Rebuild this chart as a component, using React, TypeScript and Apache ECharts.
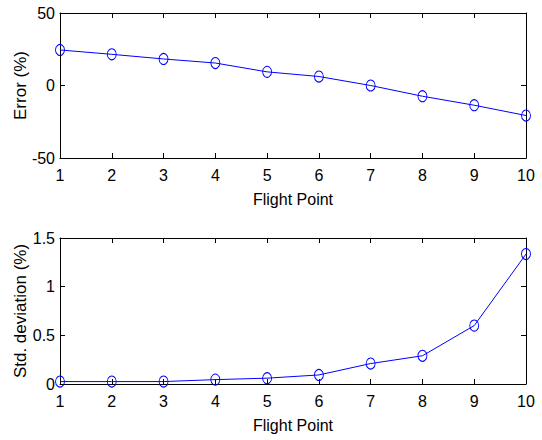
import React, { useEffect, useRef } from "react";
import * as echarts from "echarts";

const flightPoints = [1, 2, 3, 4, 5, 6, 7, 8, 9, 10];
const errorValues = [24.5, 21.5, 18.3, 15.5, 9.4, 6.2, 0, -7.4, -13.6, -20.7];
const stdValues = [0.025, 0.025, 0.025, 0.045, 0.06, 0.093, 0.21, 0.29, 0.6, 1.335];
const errorTicks = { min: -50, max: 50, interval: 50 };
const stdTicks = { min: 0, max: 1.5, interval: 0.5 };

const FONT = "'Liberation Sans', Arial, sans-serif";
const BLUE = "#0000ff";

export default function App() {
  const ref = useRef<HTMLDivElement>(null);
  useEffect(() => {
    if (!ref.current) return;
    const chart = echarts.init(ref.current, undefined, { renderer: "svg" });
    const axisLine = { show: true, onZero: false, lineStyle: { color: "#000", width: 1 } };
    const tickIn = { show: true, inside: true, length: 5, lineStyle: { color: "#000", width: 1 } };
    const label = { color: "#000", fontFamily: FONT, fontSize: 16 };
    const xBase = (gridIndex: number) => ({
      type: "value",
      gridIndex,
      min: 1,
      max: 10,
      interval: 1,
      splitLine: { show: false },
    });
    const yBase = (gridIndex: number, t: any) => ({
      type: "value",
      gridIndex,
      min: t.min,
      max: t.max,
      interval: t.interval,
      splitLine: { show: false },
    });
    const data = (vals: number[]) => flightPoints.map((x, i) => [x, vals[i]]);
    const series = (xi: number, yi: number, vals: number[]) => ({
      type: "line",
      xAxisIndex: xi,
      yAxisIndex: yi,
      data: data(vals),
      clip: false,
      symbol: "circle",
      symbolSize: [9, 11],
      lineStyle: { color: BLUE, width: 1 },
      itemStyle: { color: "rgba(0,0,0,0)", borderColor: BLUE, borderWidth: 1 },
    });
    chart.setOption({
      animation: false,
      backgroundColor: "#fff",
      grid: [
        { left: 60, right: 16, top: 13, height: 145, containLabel: false, outerBoundsMode: "none" },
        { left: 60, right: 16, top: 238, height: 146, containLabel: false, outerBoundsMode: "none" },
      ],
      xAxis: [
        {
          ...xBase(0),
          position: "bottom",
          axisLine,
          axisTick: tickIn,
          axisLabel: { ...label, margin: 9 },
          name: "Flight Point",
          nameLocation: "middle",
          nameGap: 33,
          nameMoveOverlap: false,
          nameTextStyle: { ...label, fontSize: 16 },
        },
        { ...xBase(0), position: "top", axisLine, axisTick: tickIn, axisLabel: { show: false } },
        {
          ...xBase(1),
          position: "bottom",
          axisLine,
          axisTick: tickIn,
          axisLabel: { ...label, margin: 9 },
          name: "Flight Point",
          nameLocation: "middle",
          nameGap: 33,
          nameMoveOverlap: false,
          nameTextStyle: { ...label, fontSize: 16 },
        },
        { ...xBase(1), position: "top", axisLine, axisTick: tickIn, axisLabel: { show: false } },
      ],
      yAxis: [
        {
          ...yBase(0, errorTicks),
          position: "left",
          axisLine,
          axisTick: tickIn,
          axisLabel: { ...label, margin: 5 },
          name: "Error (%)",
          nameLocation: "middle",
          nameGap: 31,
          nameMoveOverlap: false,
          nameTextStyle: { ...label, fontSize: 17 },
        },
        { ...yBase(0, errorTicks), position: "right", axisLine, axisTick: tickIn, axisLabel: { show: false } },
        {
          ...yBase(1, stdTicks),
          position: "left",
          axisLine,
          axisTick: tickIn,
          axisLabel: { ...label, margin: 5 },
          name: "Std. deviation (%)",
          nameLocation: "middle",
          nameGap: 31,
          nameMoveOverlap: false,
          nameTextStyle: { ...label, fontSize: 17 },
        },
        { ...yBase(1, stdTicks), position: "right", axisLine, axisTick: tickIn, axisLabel: { show: false } },
      ],
      series: [series(0, 0, errorValues), series(2, 2, stdValues)],
    });
    return () => chart.dispose();
  }, []);
  return (
    <div
      ref={ref}
      style={{ position: "absolute", left: 0, top: 0, width: 542, height: 440 }}
    />
  );
}
